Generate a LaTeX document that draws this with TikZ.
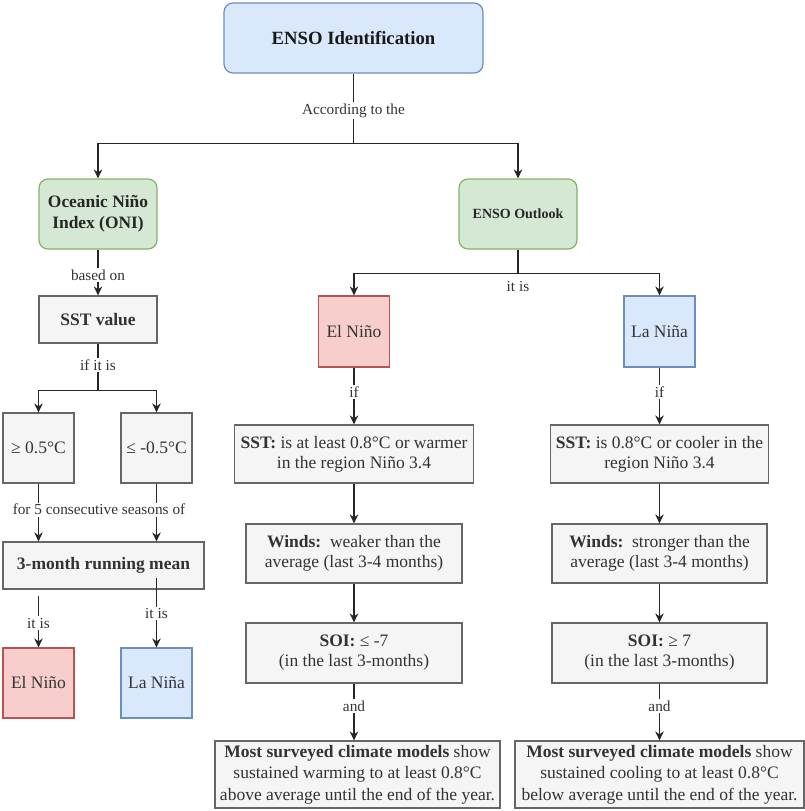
\documentclass[tikz,border=0pt]{standalone}
\usepackage{fontspec}
\setmainfont{Liberation Serif}
\usetikzlibrary{arrows.meta,calc}
\definecolor{bluef}{HTML}{DAE8FC}
\definecolor{bluel}{HTML}{6C8EBF}
\definecolor{greenf}{HTML}{D5E8D4}
\definecolor{greenl}{HTML}{82B366}
\definecolor{redf}{HTML}{F8CECC}
\definecolor{redl}{HTML}{B85450}
\definecolor{grayf}{HTML}{F5F5F5}
\definecolor{grayl}{HTML}{666666}
\definecolor{txt}{HTML}{333333}
\begin{document}
\begin{tikzpicture}[x=1pt,y=-1pt,
  box/.style={draw=grayl, fill=grayf, line width=1.2pt, text=txt, inner sep=0pt, align=center,
    font=\fontsize{17.5}{20}\selectfont},
  rbox/.style={box, rounded corners=9pt},
  bluebox/.style={draw=bluel, fill=bluef},
  greenbox/.style={draw=greenl, fill=greenf},
  redbox/.style={draw=redl, fill=redf},
  lbl/.style={fill=white, inner sep=1.5pt, text=txt, font=\fontsize{15.3}{17}\selectfont},
  conn/.style={line width=1.2pt, draw=black!85},
  arr/.style={conn, -{Stealth[length=9pt,width=8.5pt]}}
]
\useasboundingbox (0,0) rectangle (804,811);

% nodes
\node[rbox, bluebox, minimum width=259pt, minimum height=70pt, text=black!90,
  font=\fontsize{18.7}{21}\selectfont\bfseries] (id) at (353.5,38) {ENSO Identification};
\node[rbox, greenbox, minimum width=118pt, minimum height=70pt, text=black!85,
  font=\fontsize{17.4}{21}\selectfont\bfseries] (oni) at (98,214) {Oceanic Niño\\Index (ONI)};
\node[rbox, greenbox, minimum width=118pt, minimum height=70pt, text=black!85,
  font=\fontsize{14}{17}\selectfont\bfseries] (out) at (518,214) {ENSO Outlook};

\node[box, minimum width=118pt, minimum height=47pt, font=\fontsize{17.5}{20}\selectfont\bfseries] (sst) at (98,319.5) {SST value};
\node[box, minimum width=71pt, minimum height=70pt] (ge) at (38.5,448) {≥ 0.5°C};
\node[box, minimum width=71pt, minimum height=70pt] (le) at (156.5,448) {≤ -0.5°C};
\node[box, minimum width=201pt, minimum height=47pt, font=\fontsize{17.5}{20}\selectfont\bfseries] (run) at (103.5,565.5) {3-month running mean};
\node[box, redbox, minimum width=71pt, minimum height=70pt] (elL) at (38.5,683) {El Niño};
\node[box, bluebox, minimum width=71pt, minimum height=70pt] (laL) at (156.5,683) {La Niña};

\node[box, redbox, minimum width=71pt, minimum height=71pt] (elM) at (354,331.5) {El Niño};
\node[box, bluebox, minimum width=71pt, minimum height=71pt] (laM) at (659.5,331.5) {La Niña};

\node[box, minimum width=239pt, minimum height=58pt] (sstM) at (354,454)
  {\textbf{SST:} is at least 0.8°C or warmer\\in the region Niño 3.4};
\node[box, minimum width=216pt, minimum height=59pt] (windM) at (354,553.5)
  {\textbf{Winds:}\ \ weaker than the\\average (last 3-4 months)};
\node[box, minimum width=216pt, minimum height=60pt] (soiM) at (354,653)
  {\textbf{SOI:} ≤ -7\\(in the last 3-months)};
\node[box, minimum width=285pt, minimum height=67pt, font=\fontsize{17.5}{21.5}\selectfont] (modM) at (357.5,774.5)
  {\textbf{Most surveyed climate models} show\\sustained warming to at least 0.8°C\\above average until the end of the year.};

\node[box, minimum width=218pt, minimum height=58pt] (sstR) at (659.5,454)
  {\textbf{SST:} is 0.8°C or cooler in the\\region Niño 3.4};
\node[box, minimum width=215pt, minimum height=59pt] (windR) at (659.5,553.5)
  {\textbf{Winds:}\ \ stronger than the\\average (last 3-4 months)};
\node[box, minimum width=215pt, minimum height=60pt] (soiR) at (659.5,653)
  {\textbf{SOI:} ≥ 7\\(in the last 3-months)};
\node[box, minimum width=289pt, minimum height=67pt, font=\fontsize{17.5}{21.5}\selectfont] (modR) at (659.5,774.5)
  {\textbf{Most surveyed climate models} show\\sustained cooling to at least 0.8°C\\below average until the end of the year.};

% connectors: top
\path (id.south) ++(0,70) coordinate (j1);
\draw[conn] (id.south) -- (j1);
\draw[arr] (j1) -| (oni.north);
\draw[arr] (j1) -| (out.north);
\node[lbl] at ($(id.south)!0.53!(j1)$) {According to the};

% left column
\draw[arr] (oni.south) -- node[lbl, pos=0.55] {based on} (sst.north);
\path (sst.south) ++(0,47) coordinate (j2);
\draw[conn] (sst.south) -- node[lbl, pos=0.45] {if it is} (j2);
\draw[arr] (j2) -| (ge.north);
\draw[arr] (j2) -| (le.north);
\draw[arr] (ge.south) -- (ge.south |- run.north);
\draw[arr] (le.south) -- (le.south |- run.north);
\node[lbl] at ($(ge.south)!0.5!(le.south)+(1.5,26)$) {for 5 consecutive seasons of};
\draw[arr] ([yshift=-6pt]run.south -| elL.north) -- node[lbl, pos=0.53] {it is} (elL.north);
\draw[arr] ([yshift=12pt]run.south -| laL.north) -- node[lbl, pos=0.51] {it is} (laL.north);

% outlook split
\path (out.south) ++(0,24) coordinate (j3);
\draw[conn] (out.south) -- (j3);
\draw[arr] (j3) -| (elM.north);
\draw[arr] (j3) -| (laM.north);
\node[lbl] at ($(j3)+(0,12.5)$) {it is};

% middle column
\draw[arr] (elM.south) -- node[lbl, pos=0.43] {if} (elM.south |- sstM.north);
\draw[arr] (sstM.south) -- (sstM.south |- windM.north);
\draw[arr] (windM.south) -- (windM.south |- soiM.north);
\draw[arr] (soiM.south) -- node[lbl, pos=0.4] {and} (soiM.south |- modM.north);

% right column
\draw[arr] (laM.south) -- node[lbl, pos=0.43] {if} (laM.south |- sstR.north);
\draw[arr] (sstR.south) -- (sstR.south |- windR.north);
\draw[arr] (windR.south) -- (windR.south |- soiR.north);
\draw[arr] (soiR.south) -- node[lbl, pos=0.4] {and} (soiR.south |- modR.north);
\end{tikzpicture}
\end{document}
